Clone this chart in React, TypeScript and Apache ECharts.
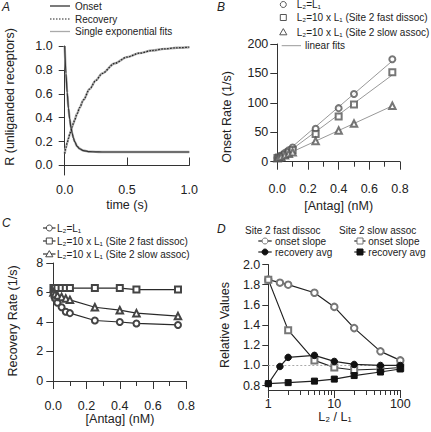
import React, { useEffect, useRef } from "react";
import * as echarts from "echarts";

const FONT = "'Liberation Sans', Arial, Helvetica, sans-serif";
const INK = "#222";
const AX = "#333";

// ---------- Panel A : time course ----------
const timeS = [0, 0.01, 0.02, 0.03, 0.04, 0.05, 0.06, 0.07, 0.08, 0.1, 0.12, 0.15, 0.2, 0.25, 0.3, 0.4, 0.5, 0.6, 0.7, 0.8, 0.9, 1.0];
const onsetR = [1.0, 0.77, 0.61, 0.48, 0.39, 0.32, 0.27, 0.23, 0.2, 0.16, 0.14, 0.125, 0.116, 0.114, 0.113, 0.113, 0.113, 0.113, 0.113, 0.113, 0.113, 0.113];
const recoveryR = [0.1, 0.15, 0.19, 0.226, 0.26, 0.292, 0.324, 0.353, 0.382, 0.435, 0.484, 0.549, 0.64, 0.712, 0.77, 0.854, 0.907, 0.94, 0.962, 0.976, 0.985, 0.99];
const aYTicks = [0, 0.2, 0.4, 0.6, 0.8, 1.0];

// ---------- Panel B : onset rate ----------
const antagNM = [0.001, 0.01, 0.025, 0.05, 0.075, 0.1, 0.25, 0.4, 0.5, 0.75];
const onsetEqual = [6.2, 7.8, 10.5, 15, 19.5, 24, 56, 91, 115, 174];
const onsetFastDissoc = [6.4, 7.3, 9, 12, 16, 20, 47, 77, 97, 152];
const onsetSlowAssoc = [6.0, 6.9, 8.3, 10.8, 13.5, 16, 35, 53, 65, 95];
const bYTicks = [0, 50, 100, 150, 200];

// ---------- Panel C : recovery rate ----------
const recEqual = [6.0, 5.6, 5.3, 5.0, 4.7, 4.6, 4.1, 4.0, 3.9, 3.8];
const recFastDissoc = [6.3, 6.3, 6.3, 6.3, 6.3, 6.3, 6.3, 6.3, 6.2, 6.2];
const recSlowAssoc = [6.0, 5.9, 5.8, 5.7, 5.6, 5.5, 5.0, 4.8, 4.6, 4.4];
const cYTicks = [0, 2, 4, 6, 8];

// ---------- Panel D : relative values ----------
const ratioFast = [1, 1.5, 2, 5, 10, 20, 50, 100];
const fastOnsetSlope = [1.85, 1.82, 1.8, 1.72, 1.58, 1.37, 1.14, 1.05];
const fastRecoveryAvg = [0.82, 0.99, 1.08, 1.1, 1.04, 1.01, 1.0, 1.0];
const ratioSlow = [1, 2, 5, 10, 20, 50, 100];
const slowOnsetSlope = [1.85, 1.35, 1.05, 0.98, 0.955, 0.965, 0.98];
const slowRecoveryAvg = [0.82, 0.83, 0.845, 0.865, 0.9, 0.935, 0.965];
const dYTicks = [0.8, 1.0, 1.2, 1.4, 1.6, 1.8, 2.0];
const dXMajor = [1, 10, 100];
const dXMinor = [2, 3, 4, 5, 6, 7, 8, 9, 20, 30, 40, 50, 60, 70, 80, 90];

const zip = (xs: number[], ys: number[]) => xs.map((x, i) => [x, ys[i]]);

function linFit(xs: number[], ys: number[]) {
  const n = xs.length;
  let sx = 0, sy = 0, sxx = 0, sxy = 0;
  for (let i = 0; i < n; i++) {
    sx += xs[i]; sy += ys[i]; sxx += xs[i] * xs[i]; sxy += xs[i] * ys[i];
  }
  const m = (n * sxy - sx * sy) / (n * sxx - sx * sx);
  const b = (sy - m * sx) / n;
  const xEnd = Math.max(...xs);
  return [[0, b], [xEnd, b + m * xEnd]];
}

const lbl = (extra: any = {}) => ({ color: INK, fontSize: 12.5, fontFamily: FONT, ...extra });
const axLine = { show: true, lineStyle: { color: AX, width: 1 } };
const tickStyle = { color: AX, width: 1 };

// graphic helpers
const T = (x: number, y: number, text: string, o: any = {}) => ({
  type: "text",
  x,
  y,
  rotation: o.rotation || 0,
  style: {
    text,
    fill: INK,
    fontSize: o.size || 10,
    fontFamily: FONT,
    fontStyle: o.italic ? "italic" : "normal",
    align: o.align || "left",
    verticalAlign: "middle",
  },
  z: 10,
});
const L = (x1: number, y1: number, x2: number, y2: number, stroke: string, o: any = {}) => ({
  type: "line",
  shape: { x1, y1, x2, y2 },
  style: { stroke, lineWidth: o.w || 1.2, lineDash: o.dash || null },
  z: 10,
});
const C = (cx: number, cy: number, fill: string, stroke: string) => ({
  type: "circle",
  shape: { cx, cy, r: 3 },
  style: { fill, stroke, lineWidth: 1 },
  z: 11,
});
const R = (cx: number, cy: number, fill: string, stroke: string) => ({
  type: "rect",
  shape: { x: cx - 3, y: cy - 3, width: 6, height: 6 },
  style: { fill, stroke, lineWidth: 1 },
  z: 11,
});
const TRI = (cx: number, cy: number, fill: string, stroke: string) => ({
  type: "polygon",
  shape: { points: [[cx, cy - 3.4], [cx + 3.6, cy + 2.8], [cx - 3.6, cy + 2.8]] },
  style: { fill, stroke, lineWidth: 1 },
  z: 11,
});

function buildOption(): any {
  const fitEq = linFit(antagNM, onsetEqual);
  const fitFast = linFit(antagNM, onsetFastDissoc);
  const fitSlow = linFit(antagNM, onsetSlowAssoc);

  const graphic: any[] = [
    // panel letters
    T(2, 7, "A", { size: 12, italic: true }),
    T(217, 7, "B", { size: 12, italic: true }),
    T(2, 223, "C", { size: 12, italic: true }),
    T(217, 229, "D", { size: 12, italic: true }),

    // A legend
    L(50, 6, 70, 6, "#333", { w: 1.3 }),
    T(75, 6, "Onset"),
    L(50, 19, 70, 19, "#222", { w: 1.2, dash: [1.5, 1.5] }),
    T(75, 19, "Recovery"),
    L(50, 31.5, 70, 31.5, "#aaa", { w: 1.3 }),
    T(75, 31.5, "Single exponential fits"),
    // A titles
    T(10, 97, "R (unliganded receptors)", { size: 12.5, align: "center", rotation: Math.PI / 2 }),
    T(127, 204.5, "time (s)", { size: 12.5, align: "center" }),

    // B legend
    C(283.3, 4.5, "#fff", "#555"),
    T(296.7, 4.5, "L₂=L₁"),
    R(283.3, 17.5, "#fff", "#555"),
    T(296.7, 17.5, "L₂=10 x L₁ (Site 2 fast dissoc)"),
    TRI(283.3, 32, "#fff", "#555"),
    T(296.7, 32, "L₂=10 x L₁ (Site 2 slow assoc)"),
    L(281.7, 45.7, 301, 45.7, "#999", { w: 1 }),
    T(305, 45.7, "linear fits"),
    // B titles
    T(226.7, 117, "Onset Rate (1/s)", { size: 12.5, align: "center", rotation: Math.PI / 2 }),
    T(338.7, 206, "[Antag] (nM)", { size: 12.5, align: "center" }),

    // C legend
    L(43, 228, 55.5, 228, "#333"),
    C(49.3, 228, "#fff", "#444"),
    T(57, 228, "L₂=L₁"),
    L(43, 241, 55.5, 241, "#333"),
    R(49.3, 241, "#fff", "#444"),
    T(57, 241, "L₂=10 x L₁ (Site 2 fast dissoc)"),
    L(43, 254, 55.5, 254, "#333"),
    TRI(49.3, 254, "#fff", "#444"),
    T(57, 254, "L₂=10 x L₁ (Site 2 slow assoc)"),
    // C titles
    T(13.3, 321, "Recovery Rate (1/s)", { size: 12.5, align: "center", rotation: Math.PI / 2 }),
    T(120, 418.5, "[Antag] (nM)", { size: 12.5, align: "center" }),

    // D legend
    T(245, 230, "Site 2 fast dissoc"),
    T(339, 230, "Site 2 slow assoc"),
    L(258.3, 241, 271.7, 241, "#222"),
    C(265, 241, "#fff", "#777"),
    T(275, 241, "onset slope"),
    L(258.3, 252, 271.7, 252, "#222"),
    C(265, 252, "#111", "#111"),
    T(275, 252, "recovery avg"),
    L(354.3, 241, 365.5, 241, "#222"),
    R(360, 241, "#fff", "#777"),
    T(368.3, 241, "onset slope"),
    L(354.3, 252, 365.5, 252, "#222"),
    R(360, 252, "#111", "#111"),
    T(368.3, 252, "recovery avg"),
    // D titles
    T(225, 325, "Relative Values", { size: 12.5, align: "center", rotation: Math.PI / 2 }),
    T(335, 417, "L₂ / L₁", { size: 12.5, align: "center" }),
  ];

  const grid = [
    { left: 64.7, top: 46, width: 124.6, height: 129 },
    { left: 277.3, top: 44, width: 122.7, height: 121 },
    { left: 53.3, top: 263, width: 133, height: 123 },
    { left: 268.3, top: 264.5, width: 132, height: 125.5 },
  ].map((g) => ({ ...g, containLabel: false, outerBoundsMode: "none" }));

  const fmt1 = (v: number) => v.toFixed(1);

  const xAxis: any[] = [
    {
      gridIndex: 0, type: "value", position: "bottom", min: 0, max: 1, interval: 0.5,
      axisLine: axLine, splitLine: { show: false },
      axisTick: { show: true, inside: true, length: 8, lineStyle: tickStyle },
      axisLabel: lbl({ margin: 8, formatter: fmt1 }),
    },
    {
      gridIndex: 1, type: "value", position: "bottom", min: 0, max: 0.8, interval: 0.2,
      axisLine: axLine, splitLine: { show: false },
      axisTick: { show: true, length: 8, lineStyle: tickStyle },
      minorTick: { show: true, splitNumber: 2, length: 5, lineStyle: tickStyle },
      axisLabel: lbl({ margin: 17, formatter: fmt1 }),
    },
    {
      gridIndex: 2, type: "value", position: "bottom", min: 0, max: 0.8, interval: 0.2,
      axisLine: axLine, splitLine: { show: false },
      axisTick: { show: true, length: 8, lineStyle: tickStyle },
      minorTick: { show: true, splitNumber: 2, length: 5, lineStyle: tickStyle },
      axisLabel: lbl({ margin: 13, formatter: fmt1 }),
    },
    {
      gridIndex: 3, type: "log", logBase: 10, position: "bottom", min: 1, max: 100,
      axisLine: axLine, splitLine: { show: false },
      axisTick: { show: true, length: 8, lineStyle: tickStyle, customValues: dXMajor },
      axisLabel: lbl({ margin: 7, customValues: dXMajor, formatter: (v: number) => String(Math.round(v)) }),
    },
    {
      gridIndex: 3, type: "log", logBase: 10, position: "bottom", offset: 0, min: 1, max: 100,
      axisLine: { show: false }, splitLine: { show: false },
      axisTick: { show: true, length: 5, lineStyle: tickStyle, customValues: dXMinor },
      axisLabel: { show: false },
    },
  ];

  const yAxis: any[] = [
    {
      gridIndex: 0, type: "value", position: "left", min: -0.0795, max: 1,
      axisLine: axLine, splitLine: { show: false },
      axisTick: { show: true, length: 6, lineStyle: tickStyle, customValues: aYTicks },
      axisLabel: lbl({ margin: 12, customValues: aYTicks, formatter: fmt1 }),
    },
    {
      gridIndex: 1, type: "value", position: "left", min: -5.6, max: 200,
      axisLine: axLine, splitLine: { show: false },
      axisTick: { show: true, length: 7, lineStyle: tickStyle, customValues: bYTicks },
      axisLabel: lbl({ margin: 9, customValues: bYTicks }),
    },
    {
      gridIndex: 2, type: "value", position: "left", min: -0.34, max: 8,
      axisLine: axLine, splitLine: { show: false },
      axisTick: { show: true, length: 7, lineStyle: tickStyle, customValues: cYTicks },
      axisLabel: lbl({ margin: 10, customValues: cYTicks }),
    },
    {
      gridIndex: 3, type: "value", position: "left", min: 0.757, max: 2,
      axisLine: axLine, splitLine: { show: false },
      axisTick: { show: true, length: 6, lineStyle: tickStyle, customValues: dYTicks },
      axisLabel: lbl({ margin: 8, customValues: dYTicks, formatter: fmt1 }),
    },
  ];

  const lineA = (data: number[][], color: string, width: number, dash: any, z: number) => ({
    type: "line", xAxisIndex: 0, yAxisIndex: 0, data, showSymbol: false, symbol: "none",
    smooth: 0.3, smoothMonotone: "x",
    lineStyle: { color, width, type: dash }, z, silent: true,
  });

  const fitB = (data: number[][]) => ({
    type: "line", xAxisIndex: 1, yAxisIndex: 1, data, showSymbol: false, symbol: "none",
    lineStyle: { color: "#999", width: 1 }, z: 2, silent: true,
  });
  const scatB = (data: number[][], symbol: string, size: number) => ({
    type: "scatter", xAxisIndex: 1, yAxisIndex: 1, data, symbol, symbolSize: size,
    itemStyle: { color: "#555", borderColor: "#555", borderWidth: 1 }, z: 3, silent: true,
  });

  const lineC = (data: number[][], symbol: string, size: number) => ({
    type: "line", xAxisIndex: 2, yAxisIndex: 2, data, symbol, symbolSize: size, showSymbol: true,
    lineStyle: { color: "#2a2a2a", width: 1.2 },
    itemStyle: { color: "#444", borderColor: "#444", borderWidth: 1 }, z: 3, silent: true,
  });

  const lineD = (data: number[][], symbol: string, size: number, col: string, z: number, extra: any = {}) => ({
    type: "line", xAxisIndex: 3, yAxisIndex: 3, data, symbol, symbolSize: size, showSymbol: true,
    lineStyle: { color: "#222", width: 1.2 },
    itemStyle: { color: col, borderColor: col, borderWidth: 1 }, z, silent: true,
    ...extra,
  });

  const series: any[] = [
    lineA(zip(timeS, onsetR), "#aaa", 2.4, "solid", 2),
    lineA(zip(timeS, recoveryR), "#aaa", 2.4, "solid", 2),
    lineA(zip(timeS, onsetR), "#333", 1.2, "solid", 3),
    lineA(zip(timeS, recoveryR), "#222", 1.2, [1.5, 1.5], 3),

    fitB(fitEq),
    fitB(fitFast),
    fitB(fitSlow),
    scatB(zip(antagNM, onsetEqual), "emptyCircle", 6),
    scatB(zip(antagNM, onsetFastDissoc), "emptyRect", 6),
    scatB(zip(antagNM, onsetSlowAssoc), "emptyTriangle", 6.5),

    lineC(zip(antagNM, recEqual), "emptyCircle", 6),
    lineC(zip(antagNM, recFastDissoc), "emptyRect", 6),
    lineC(zip(antagNM, recSlowAssoc), "emptyTriangle", 6.5),

    lineD(zip(ratioFast, fastOnsetSlope), "emptyCircle", 6.5, "#777", 4, {
      markLine: {
        silent: true, symbol: "none", label: { show: false },
        lineStyle: { color: "#aaa", type: [2, 2], width: 1 },
        data: [{ yAxis: 1 }],
      },
    }),
    lineD(zip(ratioFast, fastRecoveryAvg), "circle", 6.5, "#111", 5),
    lineD(zip(ratioSlow, slowOnsetSlope), "emptyRect", 6, "#777", 4),
    lineD(zip(ratioSlow, slowRecoveryAvg), "rect", 6, "#111", 5),
  ];

  return {
    animation: false,
    backgroundColor: "#fff",
    textStyle: { fontFamily: FONT },
    grid,
    xAxis,
    yAxis,
    series,
    graphic,
  };
}

export default function App() {
  const ref = useRef<HTMLDivElement>(null);
  useEffect(() => {
    const chart = echarts.init(ref.current!, null, { renderer: "svg" });
    chart.setOption(buildOption());
    return () => chart.dispose();
  }, []);
  return (
    <div
      ref={ref}
      style={{ position: "absolute", left: 0, top: 0, width: 431, height: 432, background: "#fff" }}
    />
  );
}
